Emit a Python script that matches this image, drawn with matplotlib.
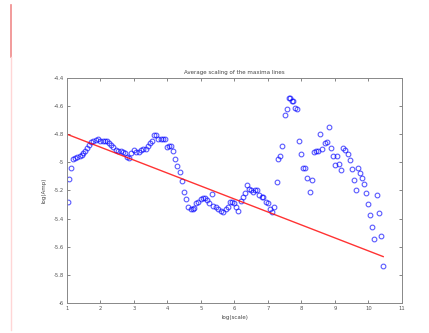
import numpy as np
import matplotlib
matplotlib.use("Agg")
import matplotlib.pyplot as plt
from matplotlib.lines import Line2D

# log(scale) and log(Amp)
log_scale = [1.02, 1.07, 1.12, 1.17, 1.24, 1.31, 1.38, 1.44, 1.49, 1.55,
             1.61, 1.67, 1.72, 1.79, 1.86, 1.94, 2.00, 2.07, 2.15, 2.21,
             2.27, 2.33, 2.38, 2.45, 2.53, 2.60, 2.67, 2.73, 2.80, 2.86,
             2.92, 2.99, 3.06, 3.14, 3.21, 3.28, 3.35, 3.42, 3.48, 3.55,
             3.61, 3.67, 3.73, 3.80, 3.86, 3.93, 3.99, 4.05, 4.11, 4.17,
             4.24, 4.30, 4.37, 4.43, 4.49, 4.55, 4.62, 4.69, 4.75, 4.80,
             4.86, 4.92, 4.99, 5.05, 5.12, 5.19, 5.25, 5.32, 5.37, 5.45,
             5.52, 5.59, 5.67, 5.74, 5.80, 5.87, 5.93, 5.99, 6.06, 6.11,
             6.19, 6.26, 6.31, 6.36, 6.43, 6.49, 6.55, 6.62, 6.68, 6.74,
             6.81, 6.86, 6.94, 7.00, 7.06, 7.13, 7.19, 7.26, 7.30, 7.36,
             7.43, 7.50, 7.56, 7.62, 7.67, 7.73, 7.76, 7.82, 7.88, 7.93,
             7.99, 8.05, 8.10, 8.18, 8.25, 8.32, 8.38, 8.44, 8.50, 8.56,
             8.62, 8.69, 8.75, 8.81, 8.88, 8.94, 9.00, 9.05, 9.12, 9.18,
             9.25, 9.31, 9.38, 9.44, 9.50, 9.56, 9.62, 9.68, 9.74, 9.81,
             9.87, 9.93, 9.99, 10.05, 10.11, 10.17, 10.24, 10.31, 10.37, 10.43]
log_amp = [-5.284, -5.12, -5.04, -4.978, -4.967, -4.962, -4.957, -4.948, -4.936, -4.92,
           -4.90, -4.877, -4.857, -4.848, -4.841, -4.836, -4.846, -4.85, -4.848, -4.848,
           -4.86, -4.874, -4.893, -4.912, -4.917, -4.917, -4.924, -4.936, -4.96, -4.971,
           -4.936, -4.914, -4.924, -4.926, -4.912, -4.907, -4.905, -4.884, -4.865, -4.85,
           -4.805, -4.808, -4.836, -4.836, -4.836, -4.836, -4.888, -4.881, -4.885, -4.92,
           -4.978, -5.026, -5.07, -5.135, -5.21, -5.26, -5.32, -5.33, -5.33, -5.327,
           -5.29, -5.28, -5.263, -5.256, -5.256, -5.268, -5.29, -5.225, -5.31, -5.32,
           -5.334, -5.344, -5.35, -5.334, -5.32, -5.28, -5.284, -5.29, -5.315, -5.344,
           -5.273, -5.244, -5.216, -5.16, -5.19, -5.20, -5.209, -5.197, -5.197, -5.23,
           -5.244, -5.245, -5.28, -5.29, -5.334, -5.35, -5.32, -5.137, -4.978, -4.955,
           -4.884, -4.666, -4.62, -4.542, -4.54, -4.561, -4.565, -4.611, -4.618, -4.85,
           -4.94, -5.038, -5.038, -5.113, -5.21, -5.128, -4.93, -4.92, -4.917, -4.798,
           -4.907, -4.86, -4.857, -4.751, -4.895, -4.955, -5.02, -4.953, -5.01, -5.054,
           -4.90, -4.91, -4.94, -4.983, -5.05, -5.125, -5.197, -5.038, -5.073, -5.109,
           -5.156, -5.22, -5.295, -5.374, -5.462, -5.543, -5.232, -5.362, -5.526, -5.737]

# fitted line end points
fit_x = [1.0, 10.44]
fit_y = [-4.80, -5.67]

fig = plt.figure(figsize=(4.29, 3.33), dpi=100)
ax = fig.add_axes([0.156, 0.090, 0.781, 0.676])

ax.plot(log_scale, log_amp, 'o', mfc='none', mec='b', ms=3.4, mew=0.8, alpha=0.65)
ax.plot(fit_x, fit_y, '-', color='r', lw=1.0, alpha=0.8)

ax.set_xlim(1, 11)
ax.set_ylim(-6, -4.4)
ax.set_xticks(range(1, 12))
ax.set_yticks(np.arange(-6, -4.39, 0.2))
ax.set_yticklabels(['-6', '-5.8', '-5.6', '-5.4', '-5.2', '-5', '-4.8', '-4.6', '-4.4'])
ax.tick_params(direction='in', length=2.5, width=0.5, labelsize=3.8,
               colors='#555555', top=True, right=True, pad=2)
for s in ax.spines.values():
    s.set_color('#888888')
    s.set_linewidth(0.7)

ax.set_title('Average scaling of the maxima lines', fontsize=4, color='#444444', pad=3)
ax.set_xlabel('log(scale)', fontsize=4, color='#444444', labelpad=3)
ax.set_ylabel('log(Amp)', fontsize=4, color='#444444', labelpad=5)

# margin line at the left of the page
fig.add_artist(Line2D([0.0256, 0.0256], [0.985, 0.829], color='#f08a8a', lw=1.2))
fig.add_artist(Line2D([0.0256, 0.0256], [0.829, 0.009], color='#ffd6d6', lw=1.0))

fig.savefig('out.png', dpi=100)
